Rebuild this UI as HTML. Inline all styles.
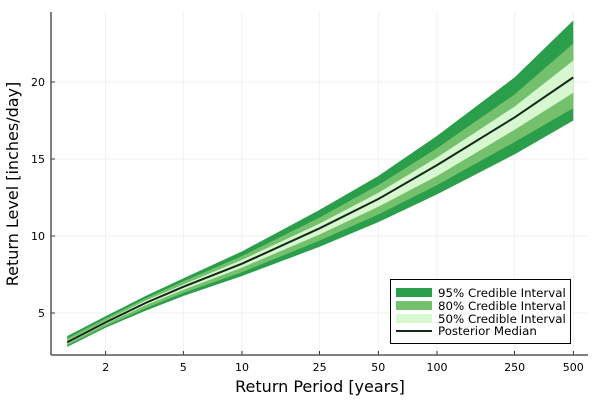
<!DOCTYPE html>
<html><head><meta charset="utf-8"><style>
body{margin:0;background:#fff;width:600px;height:400px;overflow:hidden}
svg{font-family:"DejaVu Sans","Liberation Sans",sans-serif}
</style></head><body>
<svg id="chart" width="600" height="400" xmlns="http://www.w3.org/2000/svg">
<g id="grid"></g>
<g id="bands"></g>
<g id="axes"></g>
<text x="320" y="392" font-size="16" text-anchor="middle" fill="#000">Return Period [years]</text>
<text transform="translate(18,184) rotate(-90)" font-size="16" text-anchor="middle" fill="#000">Return Level [inches/day]</text>
<g>
<rect x="390.5" y="279.5" width="180" height="64" fill="#fff" stroke="#000" stroke-width="1"/>
<rect x="396" y="288" width="36" height="9" fill="#2a9e4a"/>
<text x="438" y="297" font-size="11.8" fill="#000">95% Credible Interval</text>
<rect x="396" y="301" width="36" height="9" fill="#74c06c"/>
<text x="438" y="310" font-size="11.8" fill="#000">80% Credible Interval</text>
<rect x="396" y="314" width="36" height="9" fill="#d7f7d0"/>
<text x="438" y="323" font-size="11.8" fill="#000">50% Credible Interval</text>
<line x1="396" y1="331" x2="432" y2="331" stroke="#132a18" stroke-width="2"/>
<text x="438" y="335" font-size="11.8" fill="#000">Posterior Median</text>
</g>
</svg>
<script>
const periods=[1.27,2,3.2,5,10,25,50,100,250,500];
const median=[3.1,4.4,5.65,6.7,8.2,10.5,12.4,14.6,17.7,20.3];
const lo95=[2.8,4.05,5.15,6.1,7.4,9.3,10.9,12.7,15.3,17.5];
const hi95=[3.5,4.8,6.1,7.25,9.0,11.7,13.9,16.5,20.3,24.0];
const lo80=[2.9,4.15,5.3,6.3,7.65,9.7,11.4,13.3,16.1,18.3];
const hi80=[3.35,4.65,5.95,7.05,8.7,11.2,13.3,15.7,19.2,22.5];
const lo50=[3.0,4.3,5.5,6.5,7.95,10.1,11.9,13.9,16.9,19.3];
const hi50=[3.2,4.5,5.8,6.85,8.45,10.8,12.8,15.1,18.4,21.4];
const xTicks=[2,5,10,25,50,100,250,500];
const yTicks=[5,10,15,20];

const NS="http://www.w3.org/2000/svg";
const L=51,R=588,T=12,B=355;
function xs(v){return 242+195*(Math.log10(v)-1);}
function ys(v){return 390-15.4*v;}
function mk(tag,attrs,parent){const e=document.createElementNS(NS,tag);for(const k in attrs)e.setAttribute(k,attrs[k]);parent.appendChild(e);return e;}
const grid=document.getElementById('grid'),axes=document.getElementById('axes'),bands=document.getElementById('bands');
xTicks.forEach(t=>{
  const x=xs(t);
  const g=mk('line',{x1:x,x2:x,y1:T,y2:B,stroke:'#000','stroke-opacity':0.1,'stroke-width':0.5},grid);
  
  
  const tk=mk('line',{x1:x,x2:x,y1:B,y2:B-4,stroke:'#000','stroke-width':0.8},axes);
  
  
  const tx=mk('text',{x:x,y:B+16,'font-size':11,'text-anchor':'middle',fill:'#000'},axes);
  tx.textContent=t;
  
  
});
yTicks.forEach(t=>{
  const y=ys(t);
  const g=mk('line',{x1:L,x2:R,y1:y,y2:y,stroke:'#000','stroke-opacity':0.1,'stroke-width':0.5},grid);
  
  
  const tk=mk('line',{x1:L,x2:L+4,y1:y,y2:y,stroke:'#000','stroke-width':0.8},axes);
  
  
  const tx=mk('text',{x:L-6,y:y+4,'font-size':11,'text-anchor':'end',fill:'#000'},axes);
  tx.textContent=t;
  
  
});
const al=mk('line',{x1:L,x2:L,y1:T,y2:B,stroke:'#555','stroke-width':1.5},axes);


const ab=mk('line',{x1:L,x2:R,y1:B,y2:B,stroke:'#555','stroke-width':1.5},axes);


function band(lo,hi,color,name){
  let d='M'+periods.map((p,i)=>xs(p)+','+ys(hi[i])).join('L');
  for(let i=periods.length-1;i>=0;i--)d+='L'+xs(periods[i])+','+ys(lo[i]);
  const p=mk('path',{d:d+'Z',fill:color},bands);
  
  
}
band(lo95,hi95,'#2a9e4a','band-95');
band(lo80,hi80,'#74c06c','band-80');
band(lo50,hi50,'#d7f7d0','band-50');
const ml=mk('polyline',{points:periods.map((p,i)=>xs(p)+','+ys(median[i])).join(' '),fill:'none',stroke:'#132a18','stroke-width':2},bands);


</script>
</body></html>
